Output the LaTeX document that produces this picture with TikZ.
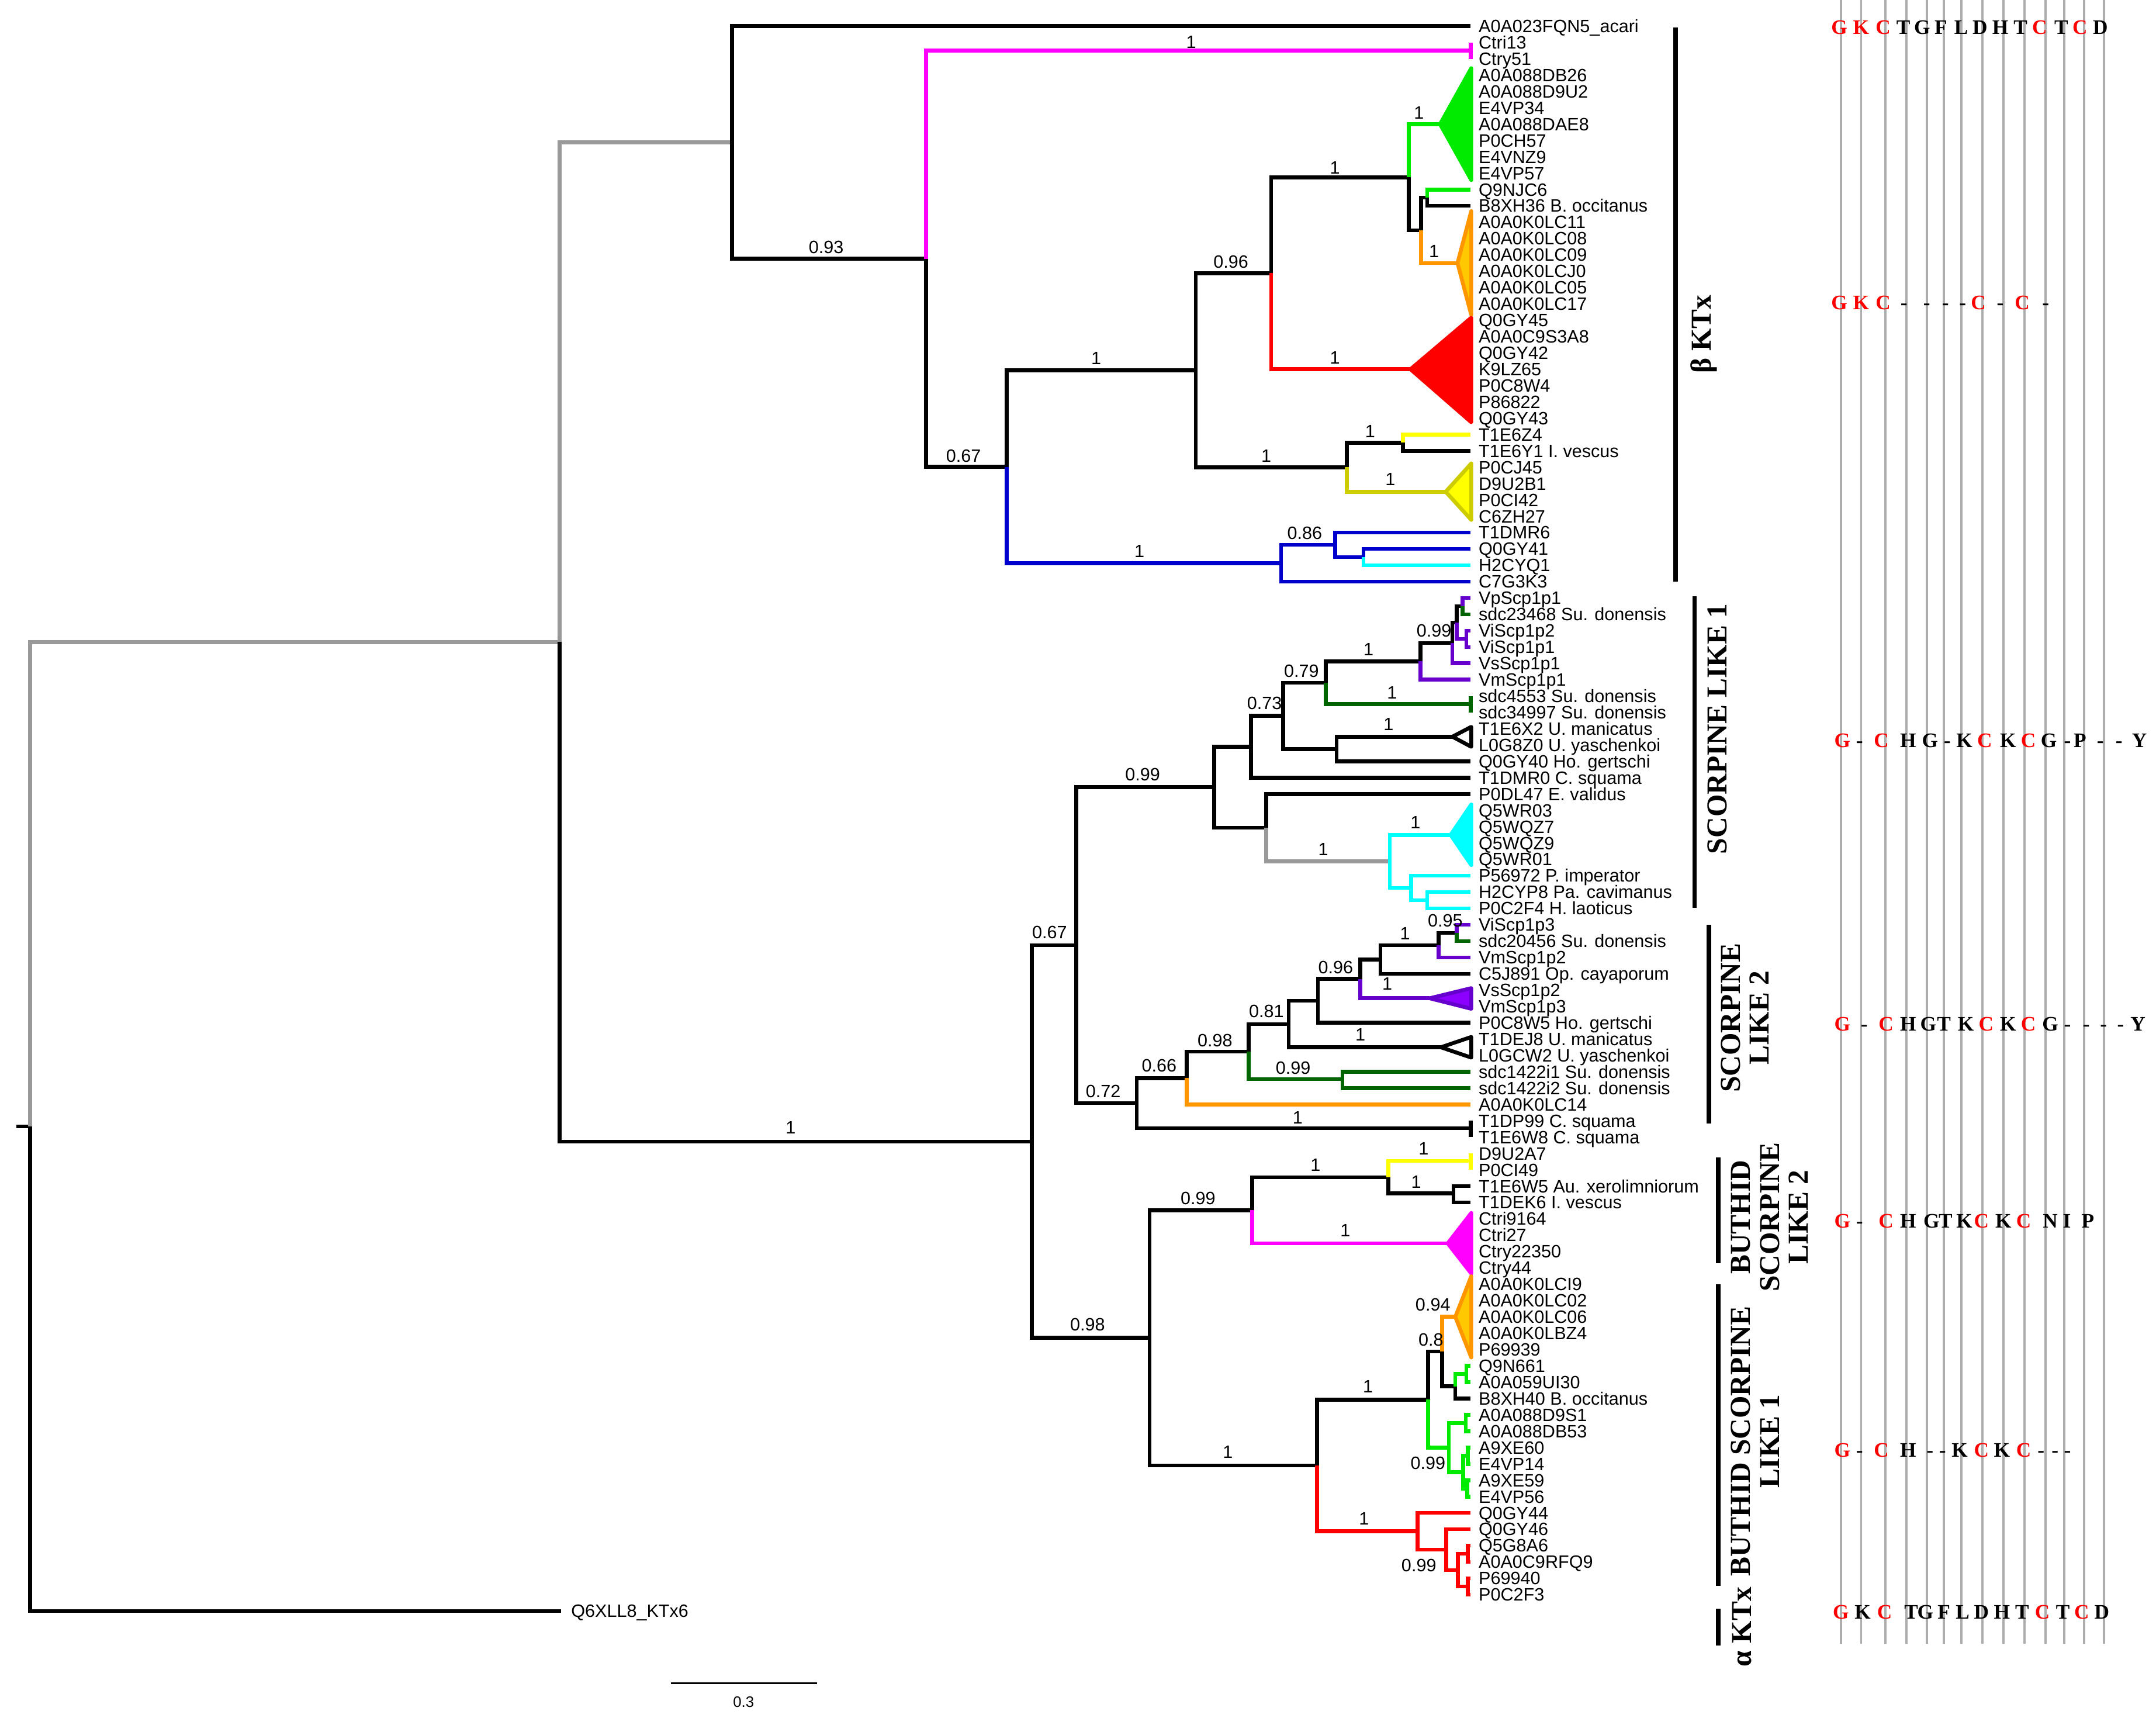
\documentclass[tikz,border=0pt]{standalone}
\usepackage{fontspec}
\setmainfont{Liberation Serif}
\newfontfamily\arialfont{Liberation Sans}
\definecolor{treegray}{RGB}{153,153,153}
\definecolor{kmag}{RGB}{255,0,255}
\definecolor{kgreen}{RGB}{0,235,0}
\definecolor{korange}{RGB}{255,150,0}
\definecolor{korfill}{RGB}{255,200,0}
\definecolor{kred}{RGB}{255,0,0}
\definecolor{kyellow}{RGB}{255,255,0}
\definecolor{kolive}{RGB}{204,204,0}
\definecolor{kblue}{RGB}{0,0,204}
\definecolor{kcyan}{RGB}{0,255,255}
\definecolor{kpurple}{RGB}{102,0,204}
\definecolor{kviolet}{RGB}{140,0,255}
\definecolor{kdgreen}{RGB}{0,100,0}
\tikzset{
  leaf/.style={anchor=base west, inner sep=0pt, yshift=-2.3pt, font=\arialfont\fontsize{6.5}{7}\selectfont},
  sup/.style={inner sep=0pt, font=\arialfont\fontsize{6.5}{7}\selectfont},
  clade/.style={rotate=90, align=center, inner sep=0pt, font=\fontsize{10.5}{10.5}\selectfont\bfseries},
  res/.style={anchor=base, inner sep=0pt, yshift=-2.5pt, font=\fontsize{7.5}{8}\selectfont\bfseries},
  aln/.style={line width=0.8pt, treegray!80},
  bar/.style={line width=1.6pt},
  tri/.style={line join=round},
}
% one row of residues: prefix, y, list of x/letter/colour
\newcommand{\motifrow}[3]{\foreach \xx/\ll/\cc [count=\k] in {#3} \node[res,text=\cc] (#1\k) at (\xx,#2) {\ll};}
\begin{document}
\begin{tikzpicture}[x=0.5pt,y=-0.5pt,line width=1.4pt]
\useasboundingbox (0,0) rectangle (1568,1249);
% alignment guides
\foreach \xx in {1338.8,1353.5,1371.1,1386.5,1401.3,1413.8,1426.3,1441.8,1457.0,1472.3,1487.7,1501.4,1515.7,1530.3}
  \draw[aln] (\xx,0) -- (\xx,1195);
% tips and leaf labels
\foreach \i in {1,...,97} \coordinate (t\i) at (1069.5,{19+(\i-1)*11.88});
\foreach \nm [count=\i] in {A0A023FQN5\_acari,Ctri13,Ctry51,A0A088DB26,A0A088D9U2,E4VP34,A0A088DAE8,P0CH57,E4VNZ9,E4VP57,
  Q9NJC6,B8XH36 B. occitanus,A0A0K0LC11,A0A0K0LC08,A0A0K0LC09,A0A0K0LCJ0,A0A0K0LC05,A0A0K0LC17,Q0GY45,A0A0C9S3A8,
  Q0GY42,K9LZ65,P0C8W4,P86822,Q0GY43,T1E6Z4,T1E6Y1 I. vescus,P0CJ45,D9U2B1,P0CI42,
  C6ZH27,T1DMR6,Q0GY41,H2CYQ1,C7G3K3,VpScp1p1,sdc23468 Su. donensis,ViScp1p2,ViScp1p1,VsScp1p1,
  VmScp1p1,sdc4553 Su. donensis,sdc34997 Su. donensis,T1E6X2 U. manicatus,L0G8Z0 U. yaschenkoi,Q0GY40 Ho. gertschi,T1DMR0 C. squama,P0DL47 E. validus,Q5WR03,Q5WQZ7,
  Q5WQZ9,Q5WR01,P56972 P. imperator,H2CYP8 Pa. cavimanus,P0C2F4 H. laoticus,ViScp1p3,sdc20456 Su. donensis,VmScp1p2,C5J891 Op. cayaporum,VsScp1p2,
  VmScp1p3,P0C8W5 Ho. gertschi,T1DEJ8 U. manicatus,L0GCW2 U. yaschenkoi,sdc1422i1 Su. donensis,sdc1422i2 Su. donensis,A0A0K0LC14,T1DP99 C. squama,T1E6W8 C. squama,D9U2A7,
  P0CI49,T1E6W5 Au. xerolimniorum,T1DEK6 I. vescus,Ctri9164,Ctri27,Ctry22350,Ctry44,A0A0K0LCI9,A0A0K0LC02,A0A0K0LC06,
  A0A0K0LBZ4,P69939,Q9N661,A0A059UI30,B8XH40 B. occitanus,A0A088D9S1,A0A088DB53,A9XE60,E4VP14,A9XE59,
  E4VP56,Q0GY44,Q0GY46,Q5G8A6,A0A0C9RFQ9,P69940,P0C2F3}
  \node[leaf] (l\i) at (1074,{19+(\i-1)*11.88}) {\nm};
\coordinate (t98) at (408,1171.36);
\node[leaf] (l98) at (414,1171.36) {Q6XLL8\_KTx6};
% internal nodes, beta KTx side
\coordinate (stub) at (12,819.08);  \coordinate (root) at (22,819.08);
\coordinate (nN) at (407,466.79);   \coordinate (nA) at (532.3,103.55);
\coordinate (nB) at (673.4,188.1);  \coordinate (nC) at (732.1,339.39);
\coordinate (nD) at (869.6,269.22); \coordinate (nF) at (924.5,198.69);
\coordinate (nG) at (1024.6,128.89); \coordinate (nH) at (1033.6,167.5);
\coordinate (nI) at (1038,143.74);  \coordinate (nE) at (979.4,339.76);
\coordinate (nJ) at (1020.2,321.94); \coordinate (nK) at (931.7,409.56);
\coordinate (nL) at (970.9,396.19); \coordinate (nM) at (991.6,405.1);
\coordinate (p23) at (1069.5,36.82);
\coordinate (gA) at (1047.3,90.28); \coordinate (oA) at (1060,191.26);
\coordinate (rA) at (1025.8,268.48); \coordinate (yA) at (1051.4,357.58);
% internal nodes, scorpine side
\coordinate (nO) at (750.3,830.02); \coordinate (nP) at (782.8,687.25);
\coordinate (nR) at (883.0,572.42); \coordinate (nT) at (909.9,542.98);
\coordinate (nV) at (933.1,520.47); \coordinate (nW) at (964.3,496.37);
\coordinate (nY) at (1033.1,480.84); \coordinate (nZ) at (1056.3,467.47);
\coordinate (nAD) at (1059.5,452.62); \coordinate (nAB) at (1063.6,440.74);
\coordinate (nAC) at (1066.5,464.5); \coordinate (p4243) at (1069.5,511.9);
\coordinate (nX) at (972.1,544.57); \coordinate (wA) at (1056.3,535.66);
\coordinate (nU) at (920.9,601.86); \coordinate (nAE) at (1010.7,626.37);
\coordinate (cA) at (1055,607.06);  \coordinate (nAF) at (1026.3,645.67);
\coordinate (nAG) at (1038,654.58);
\coordinate (nS) at (826.7,802.08); \coordinate (p6869) at (1069.5,820.3);
\coordinate (nAH) at (863.1,783.86); \coordinate (nAI) at (908.0,764.63);
\coordinate (nAK) at (976.3,784.66); \coordinate (nAJ) at (937.3,744.61);
\coordinate (wB) at (1047.9,761.5); \coordinate (nAL) at (958.4,727.72);
\coordinate (nAM) at (989.3,711.75); \coordinate (vA) at (1039.8,725.86);
\coordinate (nAN) at (1004.0,697.65); \coordinate (nAO) at (1046.3,687.25);
\coordinate (nAP) at (1059.3,678.34);
% internal nodes, buthid side
\coordinate (nQ) at (836.1,972.78); \coordinate (nAQ) at (910.6,880.0);
\coordinate (mA) at (1052.9,904.06); \coordinate (nAR) at (1009.6,855.94);
\coordinate (p7071) at (1069.5,844.06); \coordinate (nAS) at (1057,867.82);
\coordinate (nAT) at (957.9,1065.56); \coordinate (nAU) at (1038.5,1017.67);
\coordinate (nAW) at (1048.9,982.77); \coordinate (oB) at (1058.4,957.52);
\coordinate (nAX) at (1058.4,1008.01); \coordinate (nAY) at (1066.5,999.1);
\coordinate (nAZ) at (1053.7,1052.56); \coordinate (nBA) at (1066,1034.74);
\coordinate (nBB) at (1064.1,1070.38); \coordinate (nBC) at (1067.5,1058.5);
\coordinate (nBD) at (1067,1082.26); \coordinate (nAV) at (1030.9,1113.45);
\coordinate (nBE) at (1051.8,1126.81); \coordinate (nBF) at (1060.3,1141.66);
\coordinate (nBG) at (1067.5,1129.78); \coordinate (nBH) at (1067.5,1153.54);
% collapsed clades
\filldraw[tri,kgreen] (gA) -- (1070,49.6) -- (1070,130.9) -- cycle;
\filldraw[tri,draw=korange,fill=korfill] (oA) -- (1070,153.5) -- (1070,229) -- cycle;
\filldraw[tri,kred] (rA) -- (1070,231) -- (1070,307) -- cycle;
\filldraw[tri,draw=kolive,fill=kyellow] (yA) -- (1070,337) -- (1070,378) -- cycle;
\filldraw[tri,draw=black,fill=white] (wA) -- (1070,528.5) -- (1070,543) -- cycle;
\filldraw[tri,kcyan] (cA) -- (1070,585) -- (1070,629) -- cycle;
\filldraw[tri,draw=kpurple,fill=kviolet] (vA) -- (1070,718.5) -- (1070,733.5) -- cycle;
\filldraw[tri,draw=black,fill=white] (wB) -- (1070,754) -- (1070,769) -- cycle;
\filldraw[tri,kmag] (mA) -- (1070,882) -- (1070,926) -- cycle;
\filldraw[tri,draw=korange,fill=korfill] (oB) -- (1070,928) -- (1070,987) -- cycle;
\draw[kmag] (t2) -- (t3);
\draw[kdgreen] (t42) -- (t43);
\draw (t68) -- (t69);
\draw[kyellow] (t70) -- (t71);
% branches
\draw (stub) -- (root);
\foreach \p/\c/\col in {root/nN/treegray,root/t98/black,nN/nA/treegray,nN/nO/black,
  nA/t1/black,nA/nB/black,nB/p23/kmag,nB/nC/black,nC/nD/black,nC/nK/kblue,
  nD/nF/black,nD/nE/black,nF/nG/black,nF/rA/kred,nG/gA/kgreen,nG/nH/black,
  nH/nI/black,nH/oA/korange,nI/t11/kgreen,nI/t12/black,nE/nJ/black,nE/yA/kolive,
  nJ/t26/kyellow,nJ/t27/black,nK/nL/kblue,nK/t35/kblue,nL/t32/kblue,nL/nM/kblue,
  nM/t33/kblue,nM/t34/kcyan}
  \draw[\col] (\p) |- (\c);
\foreach \p/\c/\col in {nO/nP/black,nO/nQ/black,nP/nR/black,nP/nS/black,
  nR/nT/black,nR/nU/black,nT/nV/black,nT/t47/black,nV/nW/black,nV/nX/black,
  nW/nY/black,nW/p4243/kdgreen,nY/nZ/black,nY/t41/kpurple,nZ/nAD/black,nZ/t40/kpurple,
  nAD/nAB/black,nAD/nAC/kpurple,nAB/t36/kpurple,nAB/t37/kdgreen,nAC/t38/kpurple,nAC/t39/kpurple,
  nX/wA/black,nX/t46/black,nU/t48/black,nU/nAE/treegray,nAE/cA/kcyan,nAE/nAF/kcyan,
  nAF/t53/kcyan,nAF/nAG/kcyan,nAG/t54/kcyan,nAG/t55/kcyan,
  nS/nAH/black,nS/p6869/black,nAH/nAI/black,nAH/t67/korange,nAI/nAJ/black,nAI/nAK/kdgreen,
  nAK/t65/kdgreen,nAK/t66/kdgreen,nAJ/nAL/black,nAJ/wB/black,nAL/nAM/black,nAL/t62/black,
  nAM/nAN/black,nAM/vA/kpurple,nAN/nAO/black,nAN/t59/black,nAO/nAP/black,nAO/t58/kpurple,
  nAP/t56/kpurple,nAP/t57/kdgreen}
  \draw[\col] (\p) |- (\c);
\foreach \p/\c/\col in {nQ/nAQ/black,nQ/nAT/black,nAQ/nAR/black,nAQ/mA/kmag,
  nAR/p7071/kyellow,nAR/nAS/black,nAS/t72/black,nAS/t73/black,nAT/nAU/black,nAT/nAV/kred,
  nAU/nAW/black,nAU/nAZ/kgreen,nAW/oB/korange,nAW/nAX/black,nAX/nAY/kgreen,nAX/t85/black,
  nAY/t83/kgreen,nAY/t84/kgreen,nAZ/nBA/kgreen,nAZ/nBB/kgreen,nBA/t86/kgreen,nBA/t87/kgreen,
  nBB/nBC/kgreen,nBB/nBD/kgreen,nBC/t88/kgreen,nBC/t89/kgreen,nBD/t90/kgreen,nBD/t91/kgreen,
  nAV/t92/kred,nAV/nBE/kred,nBE/t93/kred,nBE/nBF/kred,nBF/nBG/kred,nBF/nBH/kred,
  nBG/t94/kred,nBG/t95/kred,nBH/t96/kred,nBH/t97/kred}
  \draw[\col] (\p) |- (\c);
% support values
\foreach \xx/\yy/\vv [count=\k] in {866.3/30.5/1,600.9/179.9/0.93,1031.9/82.2/1,970.9/121.8/1,
  1042.9/182.8/1,895.2/190.6/0.96,970.9/260/1,920.9/331.5/1,996.5/313.8/1,1011.1/348.5/1,
  948.9/387.5/0.86,828.7/400.9/1,797.2/260.7/1,700.7/331.5/0.67,575/820/1,831/563/0.99,
  919.6/511.5/0.73,946.5/487.9/0.79,995.3/472.2/1,1042.9/458.8/0.99,1012.4/503.6/1,
  1009.9/526.5/1,962.3/617.6/1,1029.4/598/1,763.3/677.9/0.67,802.3/793.4/0.72,843/775/0.66,
  883.6/756.6/0.98,921/735.3/0.81,971.4/703.5/0.96,1021.9/678.7/1,1051.1/669.4/0.95,
  1008.9/715.5/1,989.3/752.3/1,940.5/776.4/0.99,943.8/812.5/1,791/963/0.98,871.3/871.3/0.99,
  956.7/847.3/1,1035.3/835.2/1,1029.9/859.3/1,978.4/894.7/1,1042.1/948.6/0.94,1040.7/974.1/0.8,
  893/1056/1,994.9/1008.1/1,992/1104.4/1,1038.5/1064/0.99,1031.9/1138.4/0.99}
  \node[sup] (s\k) at (\xx,\yy) {\vv};
% clade bars and names
\draw[bar] (1218.5,20) -- (1218.5,423);
\draw[bar] (1232.5,433.7) -- (1232.5,660);
\draw[bar] (1242.8,672.3) -- (1242.8,817);
\draw[bar] (1249.6,841.5) -- (1249.6,918.7);
\draw[bar] (1249.6,933.6) -- (1249.6,1153.2);
\draw[bar] (1249.6,1169.5) -- (1249.6,1196.6);
\node[clade] (cbeta) at (1239,243) {β KTx};
\node[clade] (csl1) at (1249,530) {SCORPINE LIKE 1};
\node[clade] (csl2) at (1269,740) {SCORPINE\\LIKE 2};
\node[clade] (cbsl2) at (1287,885) {BUTHID\\SCORPINE\\LIKE 2};
\node[clade] (cbsl1) at (1276.4,1048) {BUTHID SCORPINE\\LIKE 1};
\node[clade] (calpha) at (1267,1183) {α KTx};
% residues
\motifrow{ra}{19.9}{1337.6/G/red,1353.5/K/red,1369.5/C/red,1384.2/T/black,1397.9/G/black,1411.5/F/black,1426.3/L/black,1440.0/D/black,1454.7/H/black,1469.4/T/black,1483.3/C/red,1499.1/T/black,1512.7/C/red,1527.5/D/black}
\motifrow{rb}{220.2}{1337.6/G/red,1353.5/K/red,1369.5/C/red,1384.7/-/black,1401.3/-/black,1414.9/-/black,1427.4/-/black,1438.8/C/red,1454.7/-/black,1470.7/C/red,1487.7/-/black}
\motifrow{rc}{538.5}{1339.9/G/red,1352.4/-/black,1368.3/C/red,1387.7/H/black,1403.6/G/black,1416.1/-/black,1428.6/K/black,1443.4/C/red,1460.4/K/black,1475.2/C/red,1490.0/G/black,1503.6/-/black,1512.7/P/black,1527.5/-/black,1541.1/-/black,1555.9/Y/black}
\motifrow{rd}{744.4}{1339.9/G/red,1355.8/-/black,1371.7/C/red,1387.7/H/black,1402.4/G/black,1413.8/T/black,1429.7/K/black,1444.5/C/red,1460.4/K/black,1475.2/C/red,1491.1/G/black,1503.6/-/black,1517.3/-/black,1529.8/-/black,1542.3/-/black,1554.8/Y/black}
\motifrow{re}{887.6}{1339.9/G/red,1352.4/-/black,1371.7/C/red,1387.7/H/black,1404.7/G/black,1414.9/T/black,1428.6/K/black,1441.1/C/red,1457.0/K/black,1471.8/C/red,1491.1/N/black,1503.2/I/black,1518.4/P/black}
\motifrow{rf}{1054.3}{1339.9/G/red,1352.4/-/black,1368.3/C/red,1387.7/H/black,1403.6/-/black,1412.7/-/black,1425.2/K/black,1441.1/C/red,1455.9/K/black,1471.8/C/red,1484.3/-/black,1494.6/-/black,1503.6/-/black}
\motifrow{rg}{1172.2}{1338.8/G/red,1354.7/K/black,1370.6/C/red,1389.9/T/black,1400.2/G/black,1413.8/F/black,1427.4/L/black,1441.1/D/black,1455.9/H/black,1470.6/T/black,1485.4/C/red,1500.2/T/black,1513.9/C/red,1528.6/D/black}
% scale
\coordinate (sc1) at (488.1,1223.8); \coordinate (sc2) at (594.2,1223.8);
\draw[line width=0.6pt] (sc1) -- (sc2);
\node[sup,font=\arialfont\fontsize{5.5}{6}\selectfont] (scl) at (540.8,1237.6) {0.3};
\end{tikzpicture}
\end{document}
